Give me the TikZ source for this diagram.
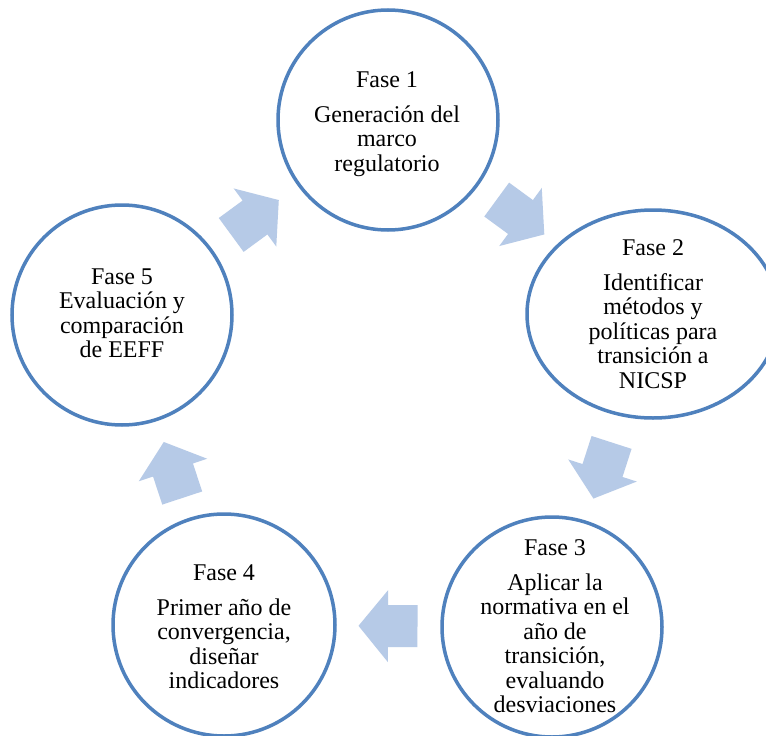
\documentclass[tikz,border=0pt]{standalone}
\usepackage{fontspec}
\setmainfont{Liberation Serif}
\usetikzlibrary{shapes.geometric}
\definecolor{ringblue}{RGB}{79,129,189}
\definecolor{arrowblue}{RGB}{182,202,231}
\tikzset{
  phase/.style={draw=ringblue, line width=3.5pt, fill=none, inner sep=0pt},
  phasetext/.style={anchor=base, align=center, inner sep=0pt, font=\fontsize{24}{24.5}\selectfont},
  blockarrow/.pic={\fill[arrowblue] (-29.5,-21) -- (0,-21) -- (0,-36) -- (29.5,0) -- (0,36) -- (0,21) -- (-29.5,21) -- cycle;}
}
\begin{document}
\begin{tikzpicture}[x=1pt,y=-1pt]
\useasboundingbox (0,0) rectangle (766,736);
\clip (0,0) rectangle (766,736);
\fill[white] (0,0) rectangle (766,736);
% phases
\node[phase, circle, minimum size=220pt] (f1) at (388,120) {};
\node[phase, ellipse, minimum width=252pt, minimum height=208pt] (f2) at (653,314) {};
\node[phase, circle, minimum size=220pt] (f3) at (552,627) {};
\node[phase, circle, minimum size=222pt] (f4) at (224,625) {};
\node[phase, circle, minimum size=220pt] (f5) at (122,315) {};
% texts (anchored at the baseline of the last line)
\node[phasetext] (t1) at (387,171.3) {Fase 1\\[10.5pt]Generación del\\marco\\regulatorio};
\node[phasetext] (t2) at (653,388) {Fase 2\\[10.5pt]Identificar\\métodos y\\políticas para\\transición a\\NICSP};
\node[phasetext] (t3) at (555,712.5) {Fase 3\\[10.5pt]Aplicar la\\normativa en el\\año de\\transición,\\evaluando\\desviaciones};
\node[phasetext] (t4) at (224,688.5) {Fase 4\\[10.5pt]Primer año de\\convergencia,\\diseñar\\indicadores};
\node[phasetext] (t5) at (122,357.8) {Fase 5\\Evaluación y\\comparación\\de EEFF};
% cycle arrows
\path (f1.center) -- (f2.center) pic[pos=0.5, sloped, allow upside down] {blockarrow};
\path (f2.center) -- (f3.center) pic[pos=0.5, sloped, allow upside down] {blockarrow};
\path (f3.center) -- (f4.center) pic[pos=0.5, sloped, allow upside down] {blockarrow};
\path (f4.center) -- (f5.center) pic[pos=0.5, sloped, allow upside down] {blockarrow};
\path (f5.center) -- (f1.center) pic[pos=0.5, sloped, allow upside down] {blockarrow};
\end{tikzpicture}
\end{document}
